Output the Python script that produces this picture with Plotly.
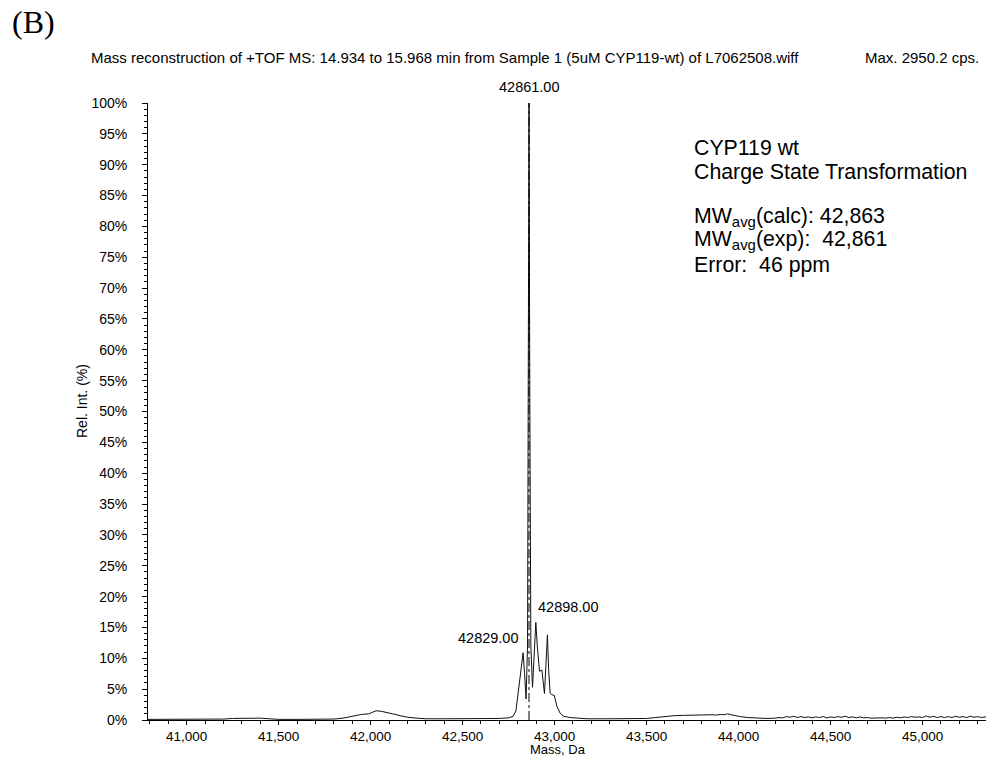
import plotly.graph_objects as go

# ---- data ----
mass = [40790, 40900, 41000, 41100, 41200, 41250, 41300, 41350, 41400, 41450, 41500, 41600, 41700,
        41800, 41850, 41900, 41950, 41990, 42010, 42030, 42060, 42090, 42120, 42160, 42200, 42250,
        42300, 42400, 42500, 42600, 42700, 42750, 42775, 42790, 42803, 42815, 42829, 42837, 42845,
        42853, 42857, 42861, 42865, 42871, 42880, 42888, 42898, 42906, 42918, 42931, 42945, 42953,
        42961, 42968, 42976, 42985, 42998, 43012, 43030, 43050, 43085, 43130, 43175, 43300, 43400,
        43500, 43550, 43600, 43650, 43700, 43750, 43800, 43850, 43880, 43900, 43920, 43940, 43960,
        43980, 44010, 44050, 44100, 44150,
        44200, 44220, 44240, 44260, 44280, 44300, 44320, 44340, 44360, 44380, 44400, 44420, 44440,
        44460, 44480, 44500, 44520, 44540, 44560, 44580, 44600, 44620, 44640, 44660, 44680, 44700,
        44720, 44740, 44760, 44780, 44800, 44820, 44840, 44860, 44880, 44900, 44920, 44940, 44960,
        44980, 45000, 45020, 45040, 45060, 45080, 45100, 45120, 45140, 45160, 45180, 45200, 45220,
        45240, 45260, 45280, 45300, 45320, 45345]
rel_int = [0.1, 0.1, 0.1, 0.1, 0.15, 0.25, 0.3, 0.25, 0.3, 0.2, 0.1, 0.1, 0.1,
           0.15, 0.3, 0.6, 0.9, 1.0, 1.2, 1.5, 1.4, 1.25, 1.0, 0.7, 0.45, 0.3,
           0.2, 0.2, 0.2, 0.2, 0.25, 0.35, 0.6, 1.5, 4.5, 8.0, 10.9, 7.5, 3.4,
           12.0, 55.0, 100.0, 55.0, 12.0, 5.3, 11.0, 15.8, 12.0, 7.9, 8.1, 4.3, 9.0,
           13.8, 8.0, 4.3, 4.1, 4.0, 2.3, 1.1, 0.6, 0.4, 0.3, 0.2, 0.2, 0.2,
           0.25, 0.4, 0.6, 0.7, 0.75, 0.8, 0.8, 0.85, 0.8, 0.9, 0.85, 1.0, 0.85,
           0.7, 0.55, 0.4, 0.3, 0.25,
           0.3, 0.4, 0.35, 0.55, 0.45, 0.6, 0.4, 0.55, 0.4, 0.5, 0.35, 0.5, 0.4,
           0.55, 0.35, 0.5, 0.4, 0.55, 0.45, 0.6, 0.4, 0.5, 0.35, 0.5, 0.35, 0.4,
           0.3, 0.35, 0.3, 0.35, 0.3, 0.4, 0.3, 0.45, 0.35, 0.5, 0.4, 0.55, 0.45,
           0.5, 0.4, 0.65, 0.45, 0.6, 0.4, 0.55, 0.4, 0.55, 0.4, 0.6, 0.45, 0.55,
           0.4, 0.6, 0.45, 0.55, 0.4, 0.5]

peak_labels = [42861, 42829, 42898]
x_ticks = [41000, 41500, 42000, 42500, 43000, 43500, 44000, 44500, 45000]
y_ticks = list(range(0, 101, 5))
y_tick_text = [f"{v}%" for v in y_ticks]

title_text = "Mass reconstruction of +TOF MS: 14.934 to 15.968 min from Sample 1 (5uM CYP119-wt) of L7062508.wiff"
max_text = "Max. 2950.2 cps."
x_title = "Mass, Da"
y_title = "Rel. Int. (%)"
info_lines = ["CYP119 wt", "Charge State Transformation",
              "MW<sub>avg</sub>(calc): 42,863",
              "MW<sub>avg</sub>(exp):\u00a0 42,861",
              "Error:\u00a0 46 ppm"]

# ---- layout geometry ----
W, H = 987, 758
L, R, T, B = 148, 1, 103, 38
PW, PH = W - L - R, H - T - B
def pxx(p):
    return (p - L) / PW
def pyy(p):
    return (H - B - p) / PH

FONT = "Arial, Liberation Sans, sans-serif"
LINE = "#111111"

fig = go.Figure()
fig.add_trace(go.Scatter(x=mass, y=rel_int, mode="lines",
                         line=dict(color=LINE, width=1), hoverinfo="skip"))

# peak marker (dash-dot) for the base peak
base = peak_labels[0]
fig.add_trace(go.Scatter(x=[base, base], y=[0, rel_int[mass.index(base)]], mode="lines",
                         line=dict(color="black", width=1, dash="dashdot"), hoverinfo="skip"))

annotations = []
anchors = {42861: ("center", 0, 6), 42829: ("right", -3, 5), 42898: ("left", 0, 6)}
for pk in peak_labels:
    xa, xs, ys = anchors[pk]
    annotations.append(dict(x=pk, y=rel_int[mass.index(pk)], xref="x", yref="y",
                            text=f"{pk:.2f}", showarrow=False, xanchor=xa, yanchor="bottom",
                            xshift=xs, yshift=ys, font=dict(family=FONT, size=14.5, color="black")))

annotations.append(dict(x=pxx(10), y=pyy(22), xref="paper", yref="paper", text="(B)",
                        showarrow=False, xanchor="left", yanchor="middle",
                        font=dict(family="Times New Roman, Liberation Serif, serif", size=32, color="black")))
annotations.append(dict(x=pxx(89), y=pyy(57), xref="paper", yref="paper", text=title_text,
                        showarrow=False, xanchor="left", yanchor="middle",
                        font=dict(family=FONT, size=15, color="black")))
annotations.append(dict(x=pxx(981), y=pyy(57), xref="paper", yref="paper", text=max_text,
                        showarrow=False, xanchor="right", yanchor="middle",
                        font=dict(family=FONT, size=15, color="black")))
# axis titles
annotations.append(dict(x=pxx(558), y=pyy(758), xref="paper", yref="paper", text=x_title,
                        showarrow=False, xanchor="center", yanchor="bottom", borderpad=0,
                        font=dict(family=FONT, size=13, color="black")))
annotations.append(dict(x=pxx(82), y=pyy(401), xref="paper", yref="paper", text=y_title,
                        showarrow=False, xanchor="center", yanchor="middle", textangle=-90,
                        font=dict(family=FONT, size=14, color="black")))
info_y = [148, 172, 217, 240, 265]
for txt, yy in zip(info_lines, info_y):
    annotations.append(dict(x=pxx(692), y=pyy(yy), xref="paper", yref="paper", text=txt,
                            showarrow=False, xanchor="left", yanchor="middle",
                            font=dict(family=FONT, size=21.3, color="black")))

fig.update_layout(
    width=W, height=H,
    margin=dict(l=L, r=R, t=T, b=B, autoexpand=False),
    paper_bgcolor="white", plot_bgcolor="white",
    showlegend=False,
    font=dict(family=FONT, color="black"),
    annotations=annotations,
    xaxis=dict(range=[40790, 45345], tickvals=x_ticks, tickformat=",d",
               ticks="outside", ticklen=4, tickwidth=1, tickcolor="black",
               showline=True, linecolor="black", linewidth=1, showgrid=False, zeroline=False,
               tickfont=dict(family=FONT, size=13.5, color="black"),
               minor=dict(dtick=100, ticks="outside", ticklen=3, tickcolor="black", showgrid=False)),
    yaxis=dict(range=[0, 100], tickvals=y_ticks, ticktext=y_tick_text,
               ticks="outside", ticklen=5, tickwidth=1, tickcolor="black",
               showline=True, linecolor="black", linewidth=1, showgrid=False, zeroline=False,
               tickfont=dict(family=FONT, size=14, color="black"), ticklabelstandoff=12,
               minor=dict(dtick=1, ticks="outside", ticklen=3, tickcolor="black", showgrid=False)),
)

fig.write_html("out.html", config={"displayModeBar": False},
               post_script="document.body.style.margin='0';document.body.style.overflow='hidden';")
